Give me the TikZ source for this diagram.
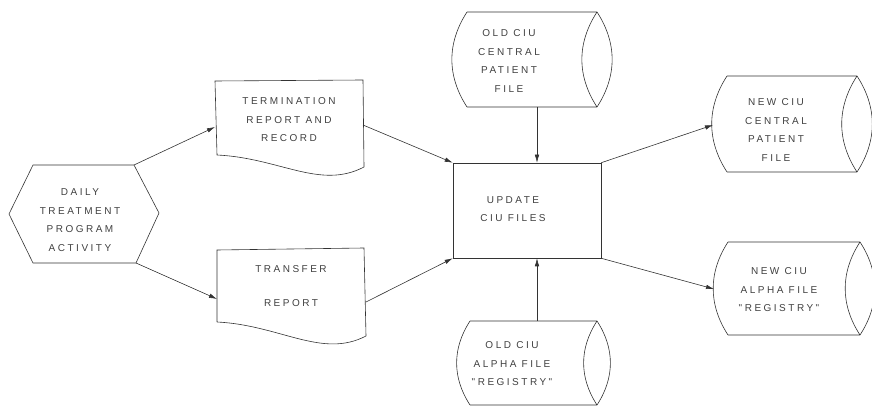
\documentclass[tikz,border=0pt]{standalone}
\usepackage{fontspec}
\newfontfamily\lblfont[LetterSpace=25]{Liberation Sans}
\usetikzlibrary{arrows.meta}
\begin{document}
\begin{tikzpicture}[x=1pt,y=-1pt,
  ln/.style={draw=black!80,line width=0.6pt},
  arr/.style={ln,-{Latex[length=8pt,width=4.5pt]}},
  txt/.style={align=center,inner sep=0pt,text=black!75,font=\lblfont\fontsize{10}{18.5}\selectfont},
  boxnode/.style={ln,rectangle,inner sep=0pt,minimum width=148pt,minimum height=95pt}]
\useasboundingbox (0,0) rectangle (872,419);
% hexagon
\coordinate (hL) at (9,214);
\coordinate (hTL) at (33,165);
\coordinate (hTR) at (134,165);
\coordinate (hR) at (159,213);
\coordinate (hBR) at (136,263);
\coordinate (hBL) at (33,263);
\draw[ln] (hL) -- (hTL) -- (hTR) -- (hR) -- (hBR) -- (hBL) -- cycle;
\node[txt] (hex) at (80,220) {DAILY\\TREATMENT\\PROGRAM\\ACTIVITY};
% termination document
\coordinate (tTL) at (215,81);
\coordinate (tTR) at (363,80);
\coordinate (tBR) at (364,167);
\coordinate (tBL) at (217,155);
\coordinate (tIn) at (215,127);
\coordinate (tOut) at (363,125);
\draw[ln] (tBL) -- (tTL) -- (tTR) -- (tBR) .. controls (320,190) and (280,158) .. (tBL);
\node[txt] (term) at (289,120) {TERMINATION\\REPORT AND\\RECORD};
% transfer document
\coordinate (rTL) at (217,250);
\coordinate (rTR) at (364,248);
\coordinate (rBR) at (366,336);
\coordinate (rBL) at (217,322);
\coordinate (rIn) at (217,299);
\coordinate (rOut) at (366,302);
\draw[ln] (rBL) -- (rTL) -- (rTR) -- (rBR) .. controls (322,359) and (280,325) .. (rBL);
\node[txt] (trans) at (291,286) {TRANSFER\\[15.5pt]REPORT};
% update box
\node[boxnode] (upd) at (527,210.5) {};
\node[txt] (updt) at (513,209) {UPDATE\\CIU FILES};
% old central cylinder
\draw[ln] (467,12) -- (597,12) (467,107) -- (597,107)
  (467,12) to[bend right=33] (467,107)
  (597,12) to[bend right=33] (597,107)
  (597,12) to[bend left=33] (597,107);
\coordinate (ocB) at (537,107);
\node[txt] (oc) at (509,61) {OLD CIU\\CENTRAL\\PATIENT\\FILE};
% old alpha cylinder
\draw[ln] (470,321) -- (597,321) (470,405) -- (597,405)
  (470,321) to[bend right=33] (470,405)
  (597,321) to[bend right=33] (597,405)
  (597,321) to[bend left=33] (597,405);
\coordinate (oaT) at (537,321);
\node[txt] (oa) at (512,364) {OLD CIU\\ALPHA FILE\\"REGISTRY"};
% new central cylinder
\draw[ln] (727,76) -- (857,76) (727,172) -- (857,172)
  (727,76) to[bend right=33] (727,172)
  (857,76) to[bend right=33] (857,172)
  (857,76) to[bend left=33] (857,172);
\coordinate (ncL) at (713,125);
\node[txt] (nc) at (776,130) {NEW CIU\\CENTRAL\\PATIENT\\FILE};
% new alpha cylinder
\draw[ln] (728,242) -- (860,242) (728,335) -- (860,335)
  (728,242) to[bend right=33] (728,335)
  (860,242) to[bend right=33] (860,335)
  (860,242) to[bend left=33] (860,335);
\coordinate (naL) at (714,289);
\node[txt] (na) at (779,290) {NEW CIU\\ALPHA FILE\\"REGISTRY"};
% connectors
\draw[arr] (hTR) -- (tIn);
\draw[arr] (hBR) -- (rIn);
\draw[arr] (tOut) -- (upd.north west);
\draw[arr] (rOut) -- (upd.south west);
\draw[arr] (ocB) -- (upd.north -| ocB);
\draw[arr] (oaT) -- (upd.south -| oaT);
\draw[arr] (upd.north east) -- (ncL);
\draw[arr] (upd.south east) -- (naL);
\end{tikzpicture}
\end{document}
